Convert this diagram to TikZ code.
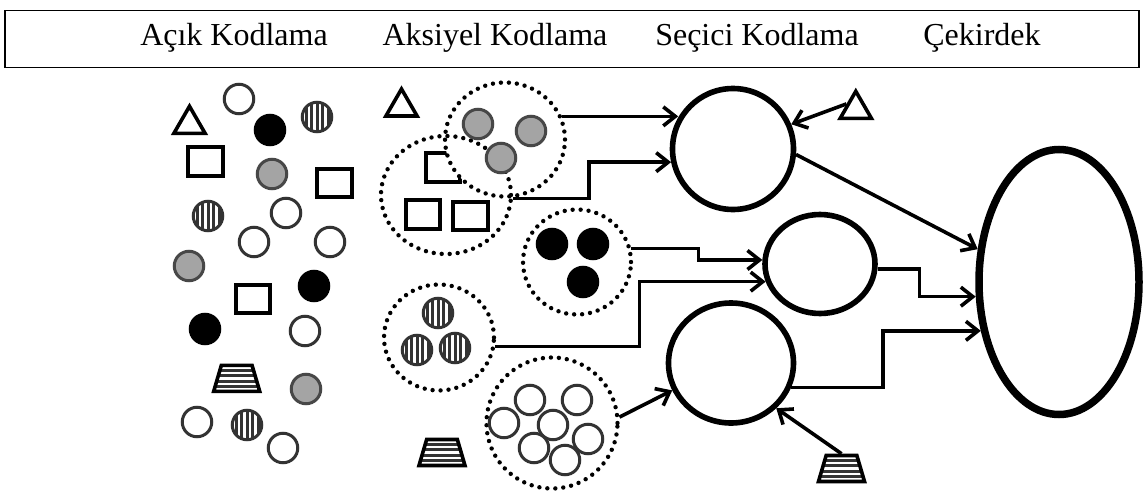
\documentclass[tikz,border=0pt]{standalone}
\usepackage{fontspec}
\setmainfont{Liberation Serif}
\usepackage{xcolor}
\usepackage{tikz}
\usetikzlibrary{arrows.meta,shapes.geometric,positioning}
\definecolor{ballfill}{HTML}{A4A4A4}
\definecolor{rim}{HTML}{333333}
\tikzset{
	ballnode/.style={circle, draw=rim, line width=3pt, minimum size=29.5, inner sep=0pt},
	openball/.style={ballnode, fill=white},
	greyball/.style={ballnode, fill=ballfill, draw=rim!90},
	blackball/.style={ballnode, fill=black, draw=black},
	stripeball/.style={ballnode, fill=white, path picture={
			\foreach \dx in {-12.5,-7,-1.5,4,9.5}
				\fill[rim] ([xshift=\dx pt, yshift=-20pt]path picture bounding box.center) rectangle ++(3pt,40pt);
		}}
}
\tikzstyle{sq} = [draw, line width=3.8pt, minimum width=34.5, minimum height=28.5, inner sep=0pt]
\tikzstyle{tri} = [regular polygon, regular polygon sides=3, draw, line width=3.6pt, minimum size=36, inner sep=0pt]
\tikzstyle{trap} = [trapezium, trapezium angle=76, trapezium stretches=true, draw, line width=3.6pt, minimum width=46, minimum height=26, inner sep=1pt,
	path picture={\foreach \dy in {-8,-2.7,2.7,8}
			\draw[rim, line width=3pt] ([yshift=\dy pt]path picture bounding box.west) -- ([yshift=\dy pt]path picture bounding box.east);}]
\tikzstyle{grp} = [ellipse, draw, line width=4.4pt, dash pattern=on 0pt off 8pt, line cap=round, inner sep=0pt]
\tikzstyle{cat} = [ellipse, draw, line width=5.6pt, inner sep=0pt]
\tikzstyle{flow} = [line width=3.6pt, -{Straight Barb[length=12pt,width=19pt]}]
\tikzstyle{hdr} = [anchor=base, font=\fontsize{32}{38}\selectfont]

\begin{document}
\begin{tikzpicture}[x=1pt, y=-1pt]
\useasboundingbox (0,0) rectangle (1144,498);

% Header
\node[draw, line width=1.8pt, minimum width=1134, minimum height=57, inner sep=0pt] (header) at (572,39) {};
\node[hdr] (acik) at (234,45) {Açık Kodlama};
\node[hdr] (aksiyel) at (495,45) {Aksiyel Kodlama};
\node[hdr] (secici) at (757,45) {Seçici Kodlama};
\node[hdr] (cekirdek) at (982,45) {Çekirdek};

% Open coding: loose items
\node[tri] (t1) at (189.5,124.3) {};
\node[sq] (s1) at (205.5,161.5) {};
\node[sq] (s2) at (334.5,183) {};
\node[sq] (s3) at (253,299) {};
\node[trap] (z1) at (236.7,378.3) {};
\foreach \name/\pos in {o1/{239,99}, o2/{286,213}, o3/{254,242}, o4/{330,242}, o5/{305,331}, o6/{197,422}, o7/{283,448}}
	\node[openball] (\name) at (\pos) {};
\foreach \name/\pos in {k1/{270,130}, k2/{314,286}, k3/{205,329}}
	\node[blackball] (\name) at (\pos) {};
\foreach \name/\pos in {g1/{272,174}, g2/{189,266}, g3/{306,389}}
	\node[greyball] (\name) at (\pos) {};
\foreach \name/\pos in {v1/{317,117}, v2/{208,216}, v3/{247,425}}
	\node[stripeball] (\name) at (\pos) {};

% Axial coding: groups
\node[tri] (t2) at (401.5,107) {};
\node[sq] (s4) at (443,167.5) {};
\node[sq] (s5) at (423,214.5) {};
\node[sq] (s6) at (470.5,216) {};
\node[grp, fill=white, minimum width=120, minimum height=114] (grpGrey) at (505,139.5) {};
\node[grp, minimum width=130, minimum height=118] (grpSq) at (446,195) {};
\foreach \name/\pos in {gg1/{478,124}, gg2/{531,131}, gg3/{501,158}}
	\node[greyball] (\name) at (\pos) {};

\node[grp, minimum width=108, minimum height=105] (grpBlack) at (577,262) {};
\foreach \name/\pos in {kk1/{552,244}, kk2/{593,244}, kk3/{583,282}}
	\node[blackball] (\name) at (\pos) {};

\node[grp, minimum width=110, minimum height=106] (grpStripe) at (439,337.5) {};
\foreach \name/\pos in {vv1/{438,313}, vv2/{417,350}, vv3/{455,348}}
	\node[stripeball] (\name) at (\pos) {};

\node[grp, minimum width=131, minimum height=131] (grpOpen) at (552,423) {};
\foreach \name/\pos in {oo1/{530,400}, oo2/{577,400}, oo3/{504,423}, oo4/{553,425}, oo5/{588,439}, oo6/{534,448}, oo7/{565,460}}
	\node[openball] (\name) at (\pos) {};
\node[trap] (z2) at (442,452.5) {};

% Selective coding and core
\node[cat, minimum width=121, minimum height=121] (catA) at (733,149) {};
\node[cat, minimum width=110, minimum height=99] (catB) at (820,264) {};
\node[cat, minimum width=125, minimum height=120] (catC) at (731,363) {};
\node[cat, line width=7.5pt, minimum width=160, minimum height=265] (core) at (1059,282) {};
\node[tri] (triR) at (855.8,109.3) {};
\node[trap] (trapR) at (841.5,468.5) {};

% Arrows
\draw[flow] (grpGrey.22) -- (grpGrey.22 -| catA.150);
\draw[flow] (grpSq.-3) -- ++(76,0) |- (catA.192);
\draw[flow] (triR.side 1) -- (catA.23);
\draw[flow] (grpBlack.14) -- ++(67,0) |- (catB.176);
\draw[flow] (grpStripe.-9) -- ++(144,0) |- (catB.198);
\draw[flow] (grpOpen.5) -- (catC.205);
\draw[flow] (trapR.north) -- (catC.-45);
\draw[flow] (catA.-5) -- (core.158.6);
\draw[flow] (catB.-5) -- ++(42,0) |- (core.190);
\draw[flow] (catC.-22) -- ++(92,0) |- (core.212);

\end{tikzpicture}
\end{document}
